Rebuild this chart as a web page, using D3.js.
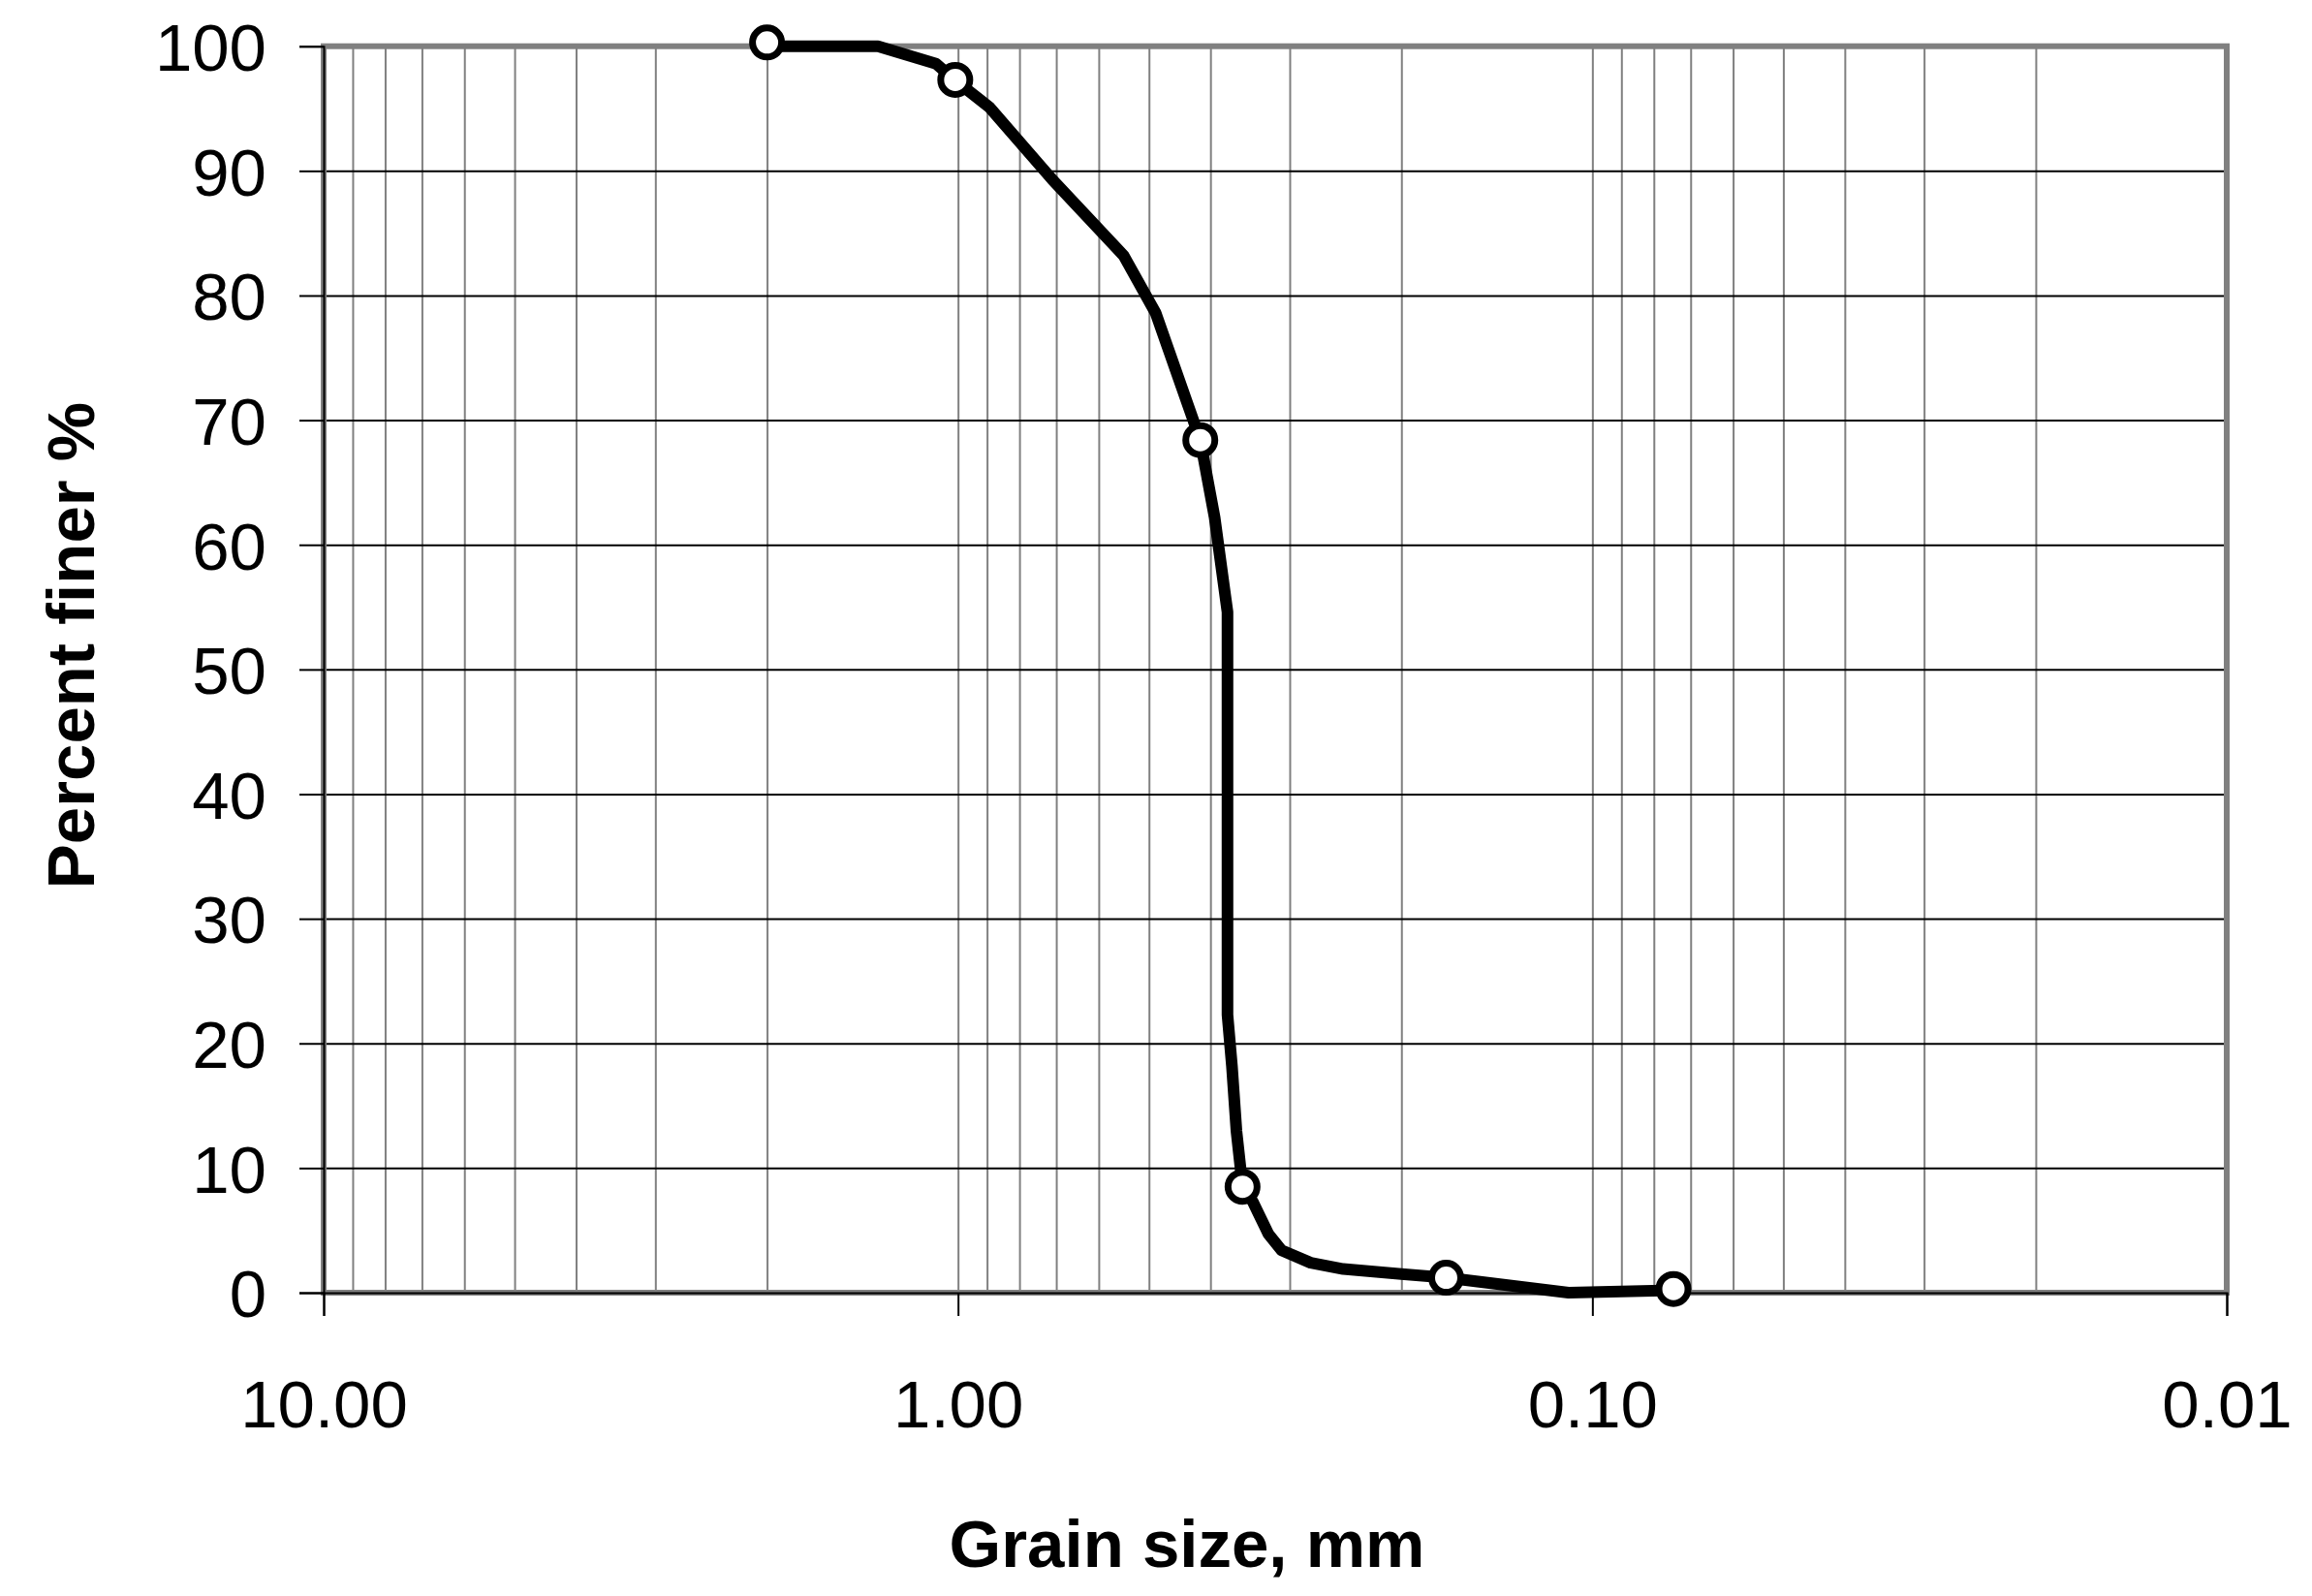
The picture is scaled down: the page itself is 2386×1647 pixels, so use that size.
<!DOCTYPE html>
<html>
<head>
<meta charset="utf-8">
<script src="https://cdn.jsdelivr.net/npm/d3@7"></script>
<style>
  body { margin: 0; background: #fff; }
  text { font-family: "Liberation Sans", Arial, sans-serif; fill: #000; }
</style>
</head>
<body>
<svg class="svg-main" width="2386" height="1647"></svg>
<script>
// grading curve
const curveSize = [2.0, 1.337, 1.083, 1.012, 0.892, 0.710, 0.548, 0.488, 0.415, 0.394, 0.376, 0.376,
  0.370, 0.364, 0.356, 0.343, 0.324, 0.309, 0.278, 0.247, 0.200, 0.170, 0.109, 0.0745];
const curvePercent = [100, 100, 98.6, 97.3, 95.1, 89.3, 83.2, 78.6, 68.4, 62.2, 54.6, 22.3,
  18.2, 13.0, 8.5, 7.3, 4.7, 3.4, 2.4, 1.9, 1.5, 1.2, 0, 0.2];

// sieve points (markers)
const markerSize = [2.0, 1.01, 0.415, 0.356, 0.170, 0.0745];
const markerPercent = [100.3, 97.3, 68.4, 8.5, 1.2, 0.3];

const xTicks = [10, 1, 0.1, 0.01];
const xTickLabels = ["10.00", "1.00", "0.10", "0.01"];
const yTicks = [0, 10, 20, 30, 40, 50, 60, 70, 80, 90, 100];

const svg = d3.select(".svg-main");

const plotLeft = 334, plotRight = 2298, plotTop = 47.7, plotBottom = 1334;

const x = d3.scaleLog().domain([10, 0.01]).range([plotLeft, plotRight]);
const y = d3.scaleLinear().domain([0, 100]).range([plotBottom, plotTop]);

svg.append("rect")
  .attr("width", 2386).attr("height", 1647).attr("fill", "#fff");

// vertical (minor log) gridlines
const minor = x.ticks().filter(d => d < 10 && d > 0.01);
svg.append("g")
  .attr("transform", `translate(0,${plotBottom})`)
  .call(d3.axisBottom(x).tickValues(minor).tickSize(-(plotBottom - plotTop)).tickFormat(""))
  .call(g => g.select(".domain").remove())
  .call(g => g.selectAll("line").attr("stroke", "#808080").attr("stroke-width", 2));

// horizontal gridlines
svg.append("g")
  .attr("transform", `translate(${plotLeft},0)`)
  .call(d3.axisLeft(y).tickValues(yTicks.slice(1, -1)).tickSize(-(plotRight - plotLeft)).tickFormat(""))
  .call(g => g.select(".domain").remove())
  .call(g => g.selectAll("line").attr("stroke", "#000").attr("stroke-width", 2));

// plot border
svg.append("rect")
  .attr("x", plotLeft).attr("y", plotTop)
  .attr("width", plotRight - plotLeft).attr("height", plotBottom - plotTop)
  .attr("fill", "none").attr("stroke", "#808080").attr("stroke-width", 6);

// axes
const yAxis = svg.append("g")
  .attr("transform", `translate(${plotLeft},0)`)
  .call(d3.axisLeft(y).tickValues(yTicks).tickSize(25).tickPadding(34));
yAxis.selectAll("text").attr("font-size", 69).attr("dy", "0.36em");

const xAxis = svg.append("g")
  .attr("transform", `translate(0,${plotBottom})`)
  .call(d3.axisBottom(x).tickValues(xTicks).tickSize(24)
    .tickFormat((d, i) => xTickLabels[i]));
xAxis.selectAll("text").attr("font-size", 69).attr("y", 139).attr("dy", 0);

[xAxis, yAxis].forEach(g => {
  g.selectAll(".domain").attr("stroke", "#000").attr("stroke-width", 2);
  g.selectAll(".tick line").attr("stroke", "#000").attr("stroke-width", 2);
});

// curve
const line = d3.line()
  .x(i => x(curveSize[i]))
  .y(i => y(curvePercent[i]));

svg.append("path")
  .attr("d", line(d3.range(curveSize.length)))
  .attr("fill", "none")
  .attr("stroke", "#000")
  .attr("stroke-width", 12)
  .attr("stroke-linejoin", "round");

svg.append("g")
  .selectAll("circle")
  .data(d3.range(markerSize.length))
  .enter().append("circle")
    .attr("cx", i => x(markerSize[i]))
    .attr("cy", i => y(markerPercent[i]))
    .attr("r", 15)
    .attr("fill", "#fff")
    .attr("stroke", "#000")
    .attr("stroke-width", 7);

// axis titles
svg.append("text")
  .attr("x", 1225).attr("y", 1617)
  .attr("text-anchor", "middle")
  .attr("font-size", 69).attr("font-weight", "bold")
  .text("Grain size, mm");

svg.append("text")
  .attr("transform", "translate(97,666) rotate(-90)")
  .attr("text-anchor", "middle")
  .attr("font-size", 69).attr("font-weight", "bold")
  .text("Percent finer %");
</script>
</body>
</html>
